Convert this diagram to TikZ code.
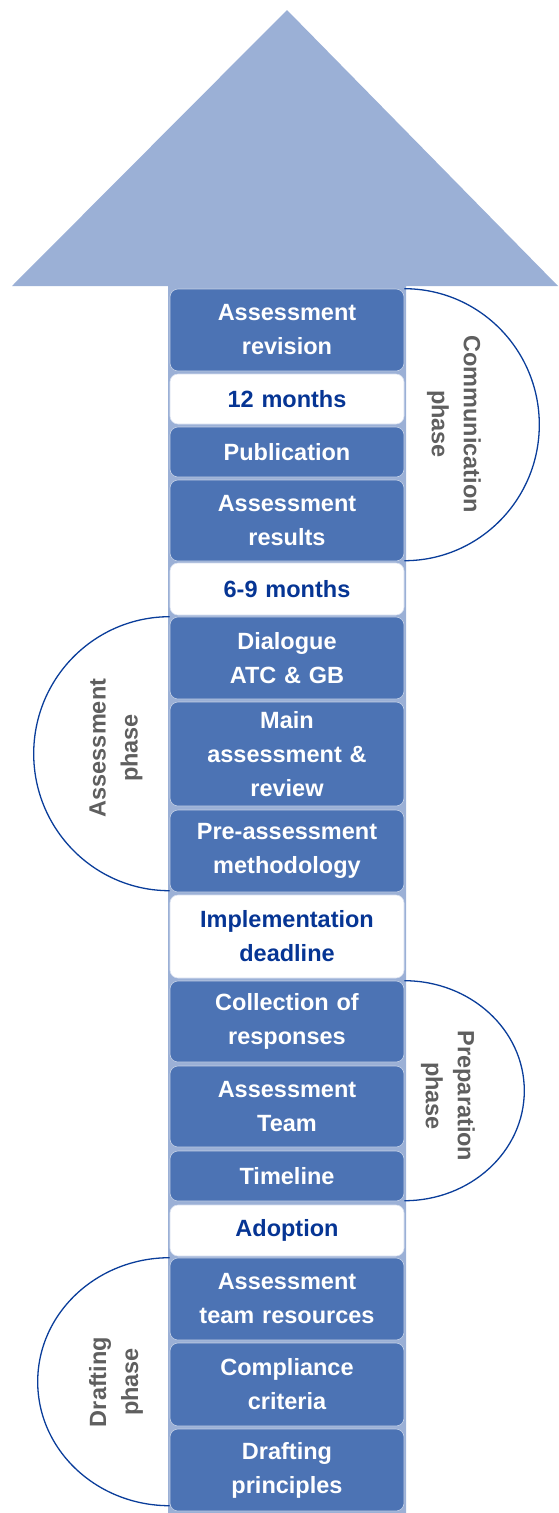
\documentclass[tikz,border=0pt]{standalone}
\usepackage{fontspec}
\setmainfont{Liberation Sans}
\definecolor{shaftblue}{HTML}{9BB0D6}
\definecolor{boxblue}{HTML}{4C73B4}
\definecolor{darkblue}{HTML}{063594}
\definecolor{arcblue}{HTML}{0A3D9A}
\definecolor{phasegray}{HTML}{5F5F5F}
\begin{document}
\begin{tikzpicture}[x=1pt,y=-1pt,
  dbox/.style={fill=boxblue, draw=shaftblue!60!white, line width=0.6pt, rounded corners=8pt,
    minimum width=234pt, inner sep=0pt, text width=230pt, align=center, text=white,
    font=\fontsize{23.5}{34}\selectfont\bfseries},
  wbox/.style={dbox, fill=white, draw=shaftblue!40!white, text=darkblue},
  phasearc/.style={draw=arcblue, line width=1.3pt},
  phasetext/.style={text=phasegray, align=center, inner sep=0pt,
    font=\fontsize{23.5}{32}\selectfont\bfseries}]
\useasboundingbox (0,0) rectangle (558,1513);
% arrow
\fill[shaftblue] (287,10) -- (558,286) -- (406,286) -- (406,1513) -- (168,1513) -- (168,286) -- (12,286) -- cycle;
% boxes
\node[dbox, minimum height=82pt] (rev) at (287,330) {Assessment\\revision};
\node[wbox, minimum height=50pt] (m12) at (287,399) {12 months};
\node[dbox, minimum height=50pt] (pub) at (287,452) {Publication};
\node[dbox, minimum height=81pt] (res) at (287,520.5) {Assessment\\results};
\node[wbox, minimum height=52pt] (m69) at (287,589) {6-9 months};
\node[dbox, minimum height=82pt] (dia) at (287,658) {Dialogue\\ATC \& GB};
\node[dbox, minimum height=104pt] (main) at (287,754) {Main\\assessment \&\\review};
\node[dbox, minimum height=82pt] (pre) at (287,851) {Pre-assessment\\methodology};
\node[wbox, minimum height=83pt] (impl) at (287,936.5) {Implementation\\deadline};
\node[dbox, minimum height=81pt] (coll) at (287,1021.5) {Collection of\\responses};
\node[dbox, minimum height=81pt] (team) at (287,1106.5) {Assessment\\Team};
\node[dbox, minimum height=50pt] (time) at (287,1176) {Timeline};
\node[wbox, minimum height=51pt] (adop) at (287,1230.5) {Adoption};
\node[dbox, minimum height=82pt] (atr) at (287,1299) {Assessment\\team resources};
\node[dbox, minimum height=83pt] (comp) at (287,1384.5) {Compliance\\criteria};
\node[dbox, minimum height=82pt] (draft) at (287,1470) {Drafting\\principles};
% phase arcs
\draw[phasearc] (rev.north east) arc[start angle=90, end angle=-90, x radius=135pt, y radius=136pt];
\draw[phasearc] (dia.north west) arc[start angle=90, end angle=270, x radius=136pt, y radius=137pt];
\draw[phasearc] (coll.north east) arc[start angle=90, end angle=-90, x radius=120pt, y radius=110pt];
\draw[phasearc] (atr.north west) arc[start angle=90, end angle=270, x radius=132pt, y radius=124pt];
% phase labels
\node[phasetext, rotate=-90] (pcomm) at (454,424) {Communication\\phase};
\node[phasetext, rotate=90] (passe) at (116,748) {Assessment\\phase};
\node[phasetext, rotate=-90] (pprep) at (448,1096) {Preparation\\phase};
\node[phasetext, rotate=90] (pdraft) at (116,1382) {Drafting\\phase};
\end{tikzpicture}
\end{document}
